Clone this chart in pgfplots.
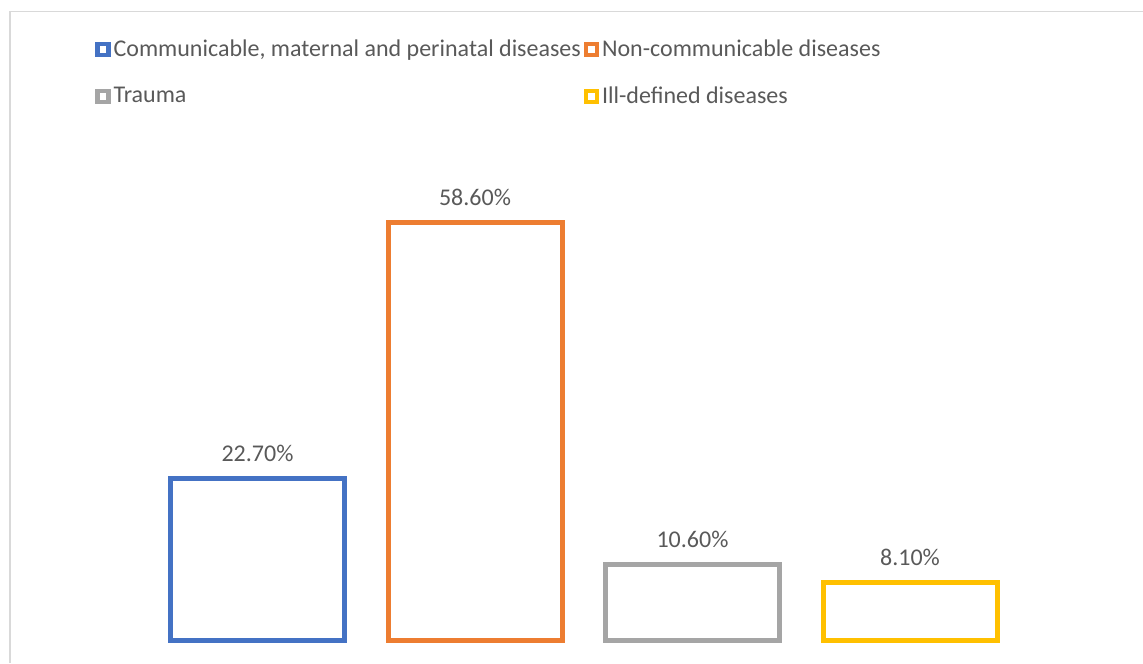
\documentclass[border=0pt]{standalone}
\usepackage{pgfplots}
\pgfplotsset{compat=1.18}
\usepackage{fontspec}
\setmainfont{Carlito}

\definecolor{cblue}{HTML}{4472C4}
\definecolor{corange}{HTML}{ED7D31}
\definecolor{cgray}{HTML}{A5A5A5}
\definecolor{cgold}{HTML}{FFC000}
\definecolor{txtgray}{HTML}{595959}
\definecolor{framegray}{HTML}{D9D9D9}

\begin{document}
\begin{tikzpicture}
  % page frame
  \path[use as bounding box] (0,0) rectangle (571.5pt,331.5pt);
  \draw[framegray, line width=0.8pt] (4.9pt,0) -- (4.9pt,325.7pt) -- (571.5pt,325.7pt);
  \begin{axis}[
    at={(74.375pt,11.5pt)}, anchor=south west,
    scale only axis, width=435pt, height=249.6pt,
    hide axis, clip=false,
    xmin=-0.5, xmax=3.5, ymin=0, ymax=70,
    ybar, bar width=0.8, bar shift=0pt,
    /pgf/number format/assume math mode=true,
    every axis plot/.append style={line width=2.5pt, fill=white},
    nodes near coords={\pgfmathprintnumber[fixed,fixed zerofill,precision=2]{\pgfplotspointmeta}\%},
    every node near coord/.append style={font=\fontsize{12pt}{14pt}\selectfont, text=txtgray,
      anchor=base, inner sep=0pt, yshift=8.5pt},
    legend columns=2,
    legend cell align=left,
    legend style={draw=none, fill=none, at={(-0.0618,1.203)}, anchor=north west,
      font=\fontsize{12pt}{14pt}\selectfont, text=txtgray,
      inner sep=0pt, row sep=13.5pt,
      nodes={inner xsep=1.5pt, inner ysep=0pt}},
    legend image code/.code={%
      \draw[#1, fill=white, line width=2.2pt] (1.1pt,-2.7pt) rectangle (6.5pt,2.7pt);},
  ]
    \addplot[draw=cblue]   coordinates {(0,22.7)};
    \addlegendentry{Communicable, maternal and perinatal diseases}
    \addplot[draw=corange] coordinates {(1,58.6)};
    \addlegendentry{Non-communicable diseases}
    \addplot[draw=cgray]   coordinates {(2,10.6)};
    \addlegendentry{Trauma}
    \addplot[draw=cgold]   coordinates {(3,8.1)};
    \addlegendentry{Ill-defined diseases}
  \end{axis}
\end{tikzpicture}
\end{document}
